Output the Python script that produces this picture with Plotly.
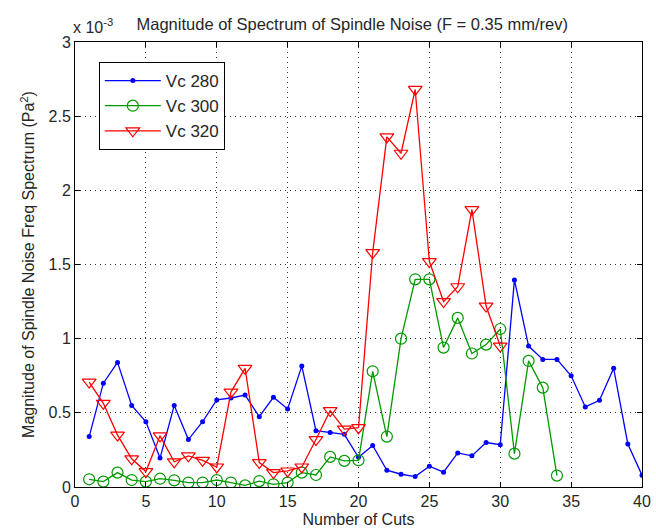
import plotly.graph_objects as go

# values in units of 1e-3 Pa^2
cuts_280 = list(range(1, 41))
vc280 = [0.34, 0.70, 0.84, 0.55, 0.44, 0.195, 0.55, 0.32, 0.44, 0.587,
         0.60, 0.62, 0.474, 0.605, 0.526, 0.815, 0.38, 0.368, 0.355, 0.20,
         0.28, 0.113, 0.086, 0.07, 0.14, 0.10, 0.23, 0.21, 0.30, 0.285,
         1.396, 0.95, 0.86, 0.86, 0.75, 0.54, 0.585, 0.80, 0.29, 0.08]

cuts_300 = list(range(1, 35))
vc300 = [0.052, 0.036, 0.097, 0.047, 0.036, 0.056, 0.045, 0.03, 0.03, 0.047,
         0.03, 0.011, 0.04, 0.018, 0.03, 0.097, 0.081, 0.203, 0.176, 0.18,
         0.78, 0.34, 1.0, 1.40, 1.40, 0.94, 1.14, 0.90, 0.96, 1.065,
         0.225, 0.85, 0.67, 0.077]

cuts_320 = list(range(1, 31))
vc320 = [0.707, 0.564, 0.35, 0.19, 0.104, 0.345, 0.17, 0.21, 0.18, 0.135,
         0.64, 0.80, 0.165, 0.097, 0.108, 0.135, 0.32, 0.515, 0.39, 0.40,
         1.58, 2.36, 2.25, 2.68, 1.52, 1.25, 1.35, 1.87, 1.22, 0.95]

x_ticks = [0, 5, 10, 15, 20, 25, 30, 35, 40]
y_ticks = [0, 0.5, 1, 1.5, 2, 2.5, 3]
y_tick_labels = ["0", "0.5", "1", "1.5", "2", "2.5", "3"]

FONT = "Liberation Sans, Arial, sans-serif"
TXT = "#262626"
FS = 16

fig = go.Figure()
fig.add_trace(go.Scatter(x=cuts_280, y=vc280, name="Vc 280", mode="lines+markers",
                         line=dict(color="#0000ff", width=1.3),
                         marker=dict(symbol="circle", size=5, color="#0000ff")))
fig.add_trace(go.Scatter(x=cuts_300, y=vc300, name="Vc 300", mode="lines+markers",
                         line=dict(color="#009900", width=1.3),
                         marker=dict(symbol="circle-open", size=11, color="#009900",
                                     line=dict(width=1.2))))
fig.add_trace(go.Scatter(x=cuts_320, y=vc320, name="Vc 320", mode="lines+markers",
                         line=dict(color="#ff0000", width=1.3),
                         marker=dict(symbol="triangle-down-open", size=12, color="#ff0000",
                                     line=dict(width=1.2))))

axis_common = dict(showline=True, linecolor="black", linewidth=1, mirror="ticks",
                   ticks="inside", ticklen=5, tickcolor="black", automargin=False,
                   showgrid=True, gridcolor="#333333", griddash="1px,4px", gridwidth=1,
                   zeroline=False, tickfont=dict(family=FONT, size=FS, color=TXT))

fig.update_xaxes(range=[0, 40], tickvals=x_ticks,
                 title=dict(text="Number of Cuts", font=dict(family=FONT, size=FS, color=TXT),
                            standoff=4),
                 **axis_common)
fig.update_yaxes(range=[0, 3], tickvals=y_ticks, ticktext=y_tick_labels,
                 title=dict(text="Magnitude of Spindle Noise Freq Spectrum (Pa<sup>2</sup>)",
                            font=dict(family=FONT, size=FS, color=TXT), standoff=9),
                 **axis_common)

fig.update_layout(
    width=656, height=532,
    margin=dict(l=75, r=14, t=42, b=45),
    paper_bgcolor="white", plot_bgcolor="white",
    font=dict(family=FONT, size=FS, color=TXT),
    title=dict(text="Magnitude of Spectrum of Spindle Noise (F = 0.35 mm/rev)",
               x=0.537, xanchor="center", y=0.955, yanchor="middle", automargin=False,
               font=dict(family=FONT, size=16.5, color=TXT)),
    showlegend=True,
    legend=dict(x=0.042, y=0.955, xanchor="left", yanchor="top",
                bgcolor="white", bordercolor="black", borderwidth=1,
                font=dict(family=FONT, size=17, color=TXT),
                itemwidth=56, tracegroupgap=0),
)
fig.add_annotation(xref="paper", yref="paper", x=0, y=1, xanchor="left", yanchor="bottom",
                   xshift=-4, yshift=4, text="x 10<sup>-3</sup>", showarrow=False,
                   font=dict(family=FONT, size=FS, color=TXT))

fig.write_html("out.html", config={"displayModeBar": False},
               post_script="document.body.style.margin='0';document.body.style.overflow='hidden';")
